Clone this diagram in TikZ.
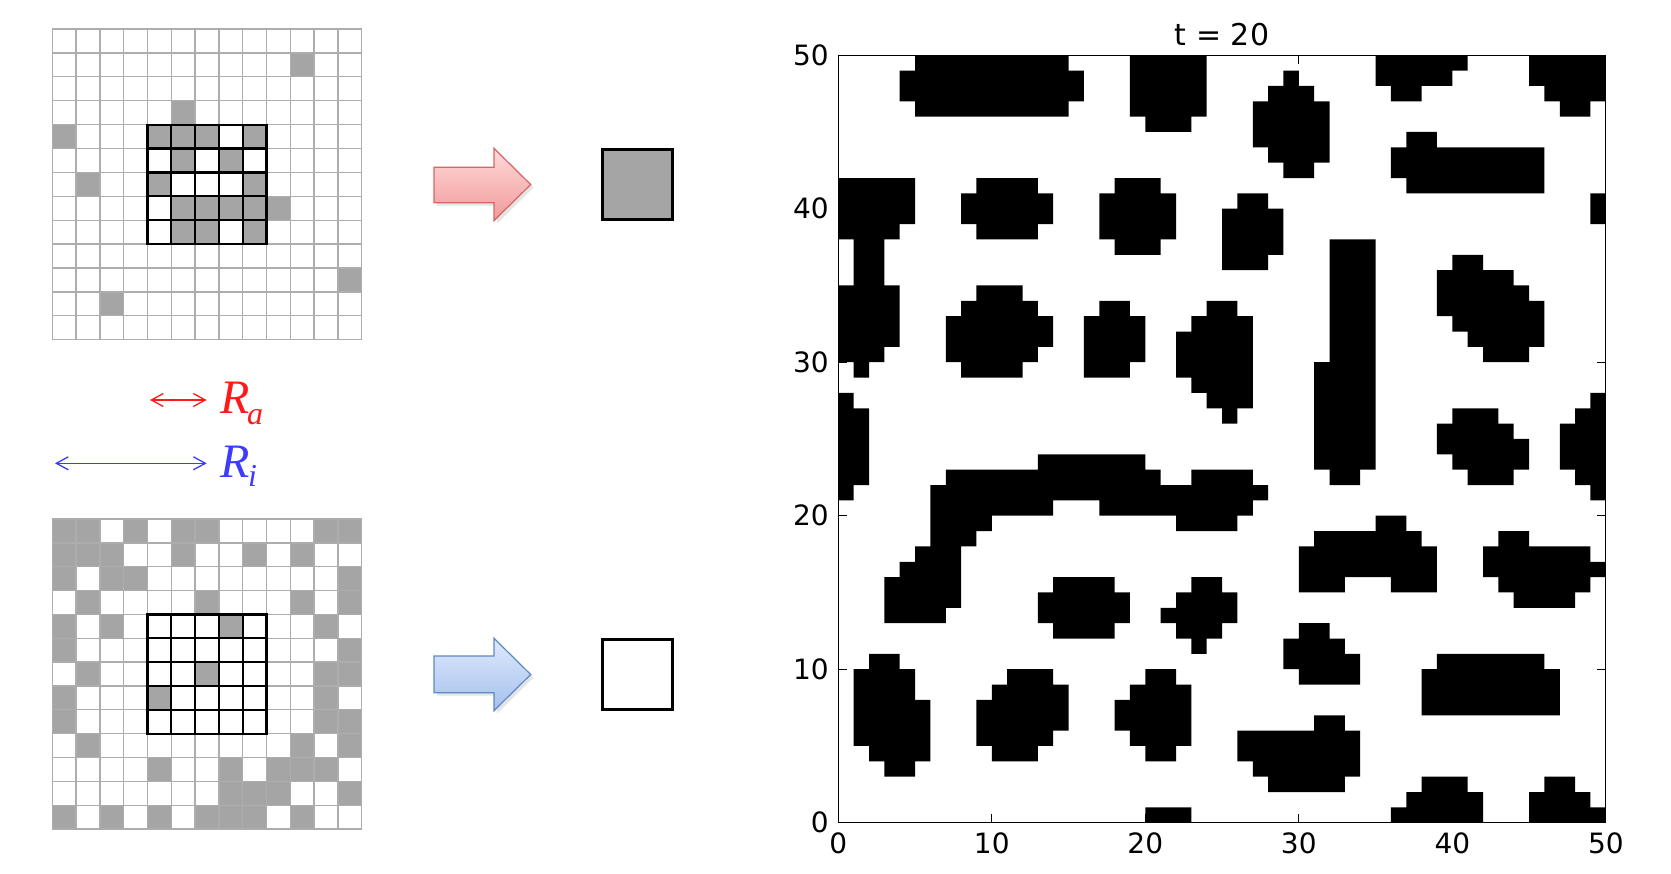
\documentclass[tikz,border=0pt]{standalone}
\usepackage{fontspec}
\usetikzlibrary{arrows.meta}
\newfontfamily\dvs{DejaVu Sans}
\newfontfamily\tms{Liberation Serif}
\definecolor{cellgray}{HTML}{A5A5A5}
\definecolor{gridgray}{HTML}{ADADAD}
\definecolor{redtop}{HTML}{FFDADA}
\definecolor{redbot}{HTML}{F29999}
\definecolor{redline}{HTML}{D96464}
\definecolor{bluetop}{HTML}{E0EAFC}
\definecolor{bluebot}{HTML}{A3C0EE}
\definecolor{blueline}{HTML}{5D88C8}
\definecolor{rared}{HTML}{FF1A1A}
\definecolor{riblue}{HTML}{3C3CFF}
\begin{document}
\begin{tikzpicture}[x=0.5pt,y=-0.5pt,
  gridln/.style={draw=gridgray, line width=0.65pt},
  innerln/.style={draw=black, line width=1.1pt, line cap=rect},
  outbox/.style={draw=black, line width=1.5pt, minimum size=35pt, inner sep=0pt},
  blockshadow/.style={fill=black, opacity=0.10},
  lenarrow/.style={{Straight Barb[length=6pt,width=6.5pt]}-{Straight Barb[length=6pt,width=6.5pt]}, line width=0.65pt},
  tickln/.style={line width=0.6pt},
  ticklab/.style={font=\dvs\fontsize{14}{16}\selectfont, inner sep=0pt},
  rlab/.style={inner sep=0pt, anchor=base west},
]
\useasboundingbox (0,0) rectangle (1671,873);

% ---------- top grid ----------
\begin{scope}[shift={(52.3,29)}, x=11.9pt, y=-11.95pt]
  \foreach \c/\r in {10/1,5/3,0/4,1/6,9/7,12/10,2/11,4/4,5/4,6/4,8/4,5/5,7/5,4/6,8/6,5/7,6/7,7/7,8/7,5/8,6/8,8/8}
    \fill[cellgray] (\c,\r) rectangle ++(1,1);
  \foreach \i in {0,...,13} {\draw[gridln] (\i,0) -- (\i,13); \draw[gridln] (0,\i) -- (13,\i);}
  \foreach \i in {4,...,9} {\draw[innerln] (\i,4) -- (\i,9); \draw[innerln] (4,\i) -- (9,\i);}
\end{scope}

% ---------- bottom grid ----------
\begin{scope}[shift={(52.3,519)}, x=11.9pt, y=-11.925pt]
  \foreach \r/\cs in {0/{0,1,3,5,6,11,12},1/{0,1,2,5,8,10},2/{0,2,3,12},3/{1,6,10,12},4/{0,2,7,11},5/{0,12},6/{1,6,11,12},7/{0,4,11},8/{0,11,12},9/{1,10,12},10/{4,7,9,10,11},11/{7,8,9,12},12/{0,2,4,6,7,8,10}}
    {\foreach \c in \cs {\fill[cellgray] (\c,\r) rectangle ++(1,1);}}
  \foreach \i in {0,...,13} {\draw[gridln] (\i,0) -- (\i,13); \draw[gridln] (0,\i) -- (13,\i);}
  \foreach \i in {4,...,9} {\draw[innerln] (\i,4) -- (\i,9); \draw[innerln] (4,\i) -- (9,\i);}
\end{scope}

% ---------- radius arrows ----------
\coordinate (raL) at (150,400);
\coordinate (raR) at (206.7,400);
\coordinate (riL) at (55,463.3);
\coordinate (riR) at (206.7,463.3);
\draw[lenarrow, rared] (raL) -- (raR);
\draw[lenarrow, riblue] (riL) -- (riR);
\node[rlab, text=rared] (ra) at (220.5,413.3) {\tms\itshape\fontsize{24}{26}\selectfont R\kern-1.5pt\raisebox{-5.5pt}{\fontsize{16}{17}\selectfont a}};
\node[rlab, text=riblue] (ri) at (220.5,477.3) {\tms\itshape\fontsize{24}{26}\selectfont R\kern-1pt\raisebox{-4.8pt}{\fontsize{16}{17}\selectfont i}};

% ---------- block arrows ----------
\fill[blockshadow] (437,170.3)--(497,170.3)--(497,151.3)--(533.7,187.5)--(497,223.7)--(497,205.7)--(437,205.7)--cycle;
\path[draw=redline, line width=0.6pt, top color=redtop, bottom color=redbot]
  (434,167.3)--(494,167.3)--(494,148.3)--(530.7,184.5)--(494,220.7)--(494,202.7)--(434,202.7)--cycle;
\fill[blockshadow] (437,659)--(497,659)--(497,641.3)--(533.7,677.5)--(497,713.7)--(497,695.7)--(437,695.7)--cycle;
\path[draw=blueline, line width=0.6pt, top color=bluetop, bottom color=bluebot]
  (434,656)--(494,656)--(494,638.3)--(530.7,674.5)--(494,710.7)--(494,692.7)--(434,692.7)--cycle;

% ---------- output cells ----------
\node[outbox, fill=cellgray] (outgray) at (637.9,184.5) {};
\node[outbox, fill=white] (outwhite) at (637.9,674.5) {};

% ---------- plot ----------
\begin{scope}[shift={(838.3,822.7)}, x=7.675pt, y=7.675pt]
  \fill[black] \foreach \a/\b/\c/\d in {
    5/46/15/50, 4/47/16/49,
    19/46/24/50, 20/45/23/46,
    0/39/5/42, 0/38/4/39, 1/35/3/38, 0/31/4/35, 0/30/3/31, 1/29/2/30,
    0/27/1/28, 0/22/2/27, 0/21/1/22,
    9/38/13/42, 8/39/14/41,
    18/37/21/42, 17/38/22/41,
    9/34/12/35, 8/33/13/34, 7/31/14/33, 7/30/13/31, 8/29/12/30,
    17/33/19/34, 16/30/20/33, 16/29/19/30,
    24/33/26/34, 23/32/27/33, 22/29/27/32, 23/28/27/29, 24/27/27/28, 25/26/26/27,
    26/40/28/41, 25/37/29/40, 25/36/28/37,
    29/48/30/49, 28/47/31/48, 27/44/32/47, 28/43/32/44, 29/42/31/43,
    35/49/41/50, 35/48/40/49, 36/47/38/48,
    45/48/50/50, 46/47/50/48, 47/46/49/47,
    37/44/39/45, 36/42/46/44, 37/41/46/42,
    49/39/50/41,
    32/30/35/38, 31/23/35/30, 32/22/34/23,
    40/36/42/37, 39/35/44/36, 39/34/45/35, 39/33/46/34, 40/32/46/33, 41/31/46/32, 42/30/45/31,
    40/26/43/27, 39/25/44/26, 39/24/45/25, 40/23/45/24, 41/22/44/23,
    49/27/50/28, 48/26/50/27, 47/23/50/26, 48/22/50/23, 49/21/50/22,
    13/23/20/24, 7/22/21/23, 23/22/27/23, 6/21/28/22, 6/20/14/21, 17/20/27/21,
    6/19/10/20, 22/19/26/20, 6/18/9/19, 5/17/8/18, 4/16/8/17, 3/14/8/16, 3/13/7/14,
    14/15/18/16, 13/13/19/15, 14/12/18/13,
    23/15/25/16, 22/14/26/15, 21/13/26/14, 22/12/25/13, 23/11/24/12,
    2/10/4/11, 1/8/5/10, 1/5/6/8, 2/4/6/5, 3/3/5/4,
    11/9/14/10, 10/8/15/9, 9/6/15/8, 9/5/14/6, 10/4/13/5,
    20/9/22/10, 19/8/23/9, 18/6/23/8, 19/5/23/6, 20/4/22/5,
    20/0/23/1,
    35/19/37/20, 31/18/38/19, 30/16/39/18, 30/15/33/16, 36/15/39/16,
    43/18/45/19, 42/17/49/18, 42/16/50/17, 43/15/49/16, 44/14/48/15,
    30/12/32/13, 29/11/33/12, 29/10/34/11, 30/9/34/10,
    39/10/46/11, 38/7/47/10,
    31/6/33/7, 26/4/34/6, 27/3/34/4, 28/2/33/3,
    38/2/41/3, 37/1/42/2, 36/0/42/1,
    46/2/48/3, 45/1/49/2, 45/0/50/1}
    {(\a,\b) rectangle (\c,\d)};
  \draw[tickln] (0,0) rectangle (50,50);
  \foreach \v in {10,20,30,40} {
    \draw[tickln] (\v,0) -- (\v,0.55);
    \draw[tickln] (\v,50) -- (\v,49.45);
    \draw[tickln] (0,\v) -- (0.55,\v);
    \draw[tickln] (50,\v) -- (49.45,\v);
  }
  \foreach \v in {0,10,20,30,40,50} {
    \node[ticklab, anchor=base] (xl\v) at (\v,-1.98) {\v};
    \node[ticklab, anchor=base east] (yl\v) at (-0.6,\v-0.65) {\v};
  }
  \node[ticklab, font=\dvs\fontsize{15}{18}\selectfont, anchor=base] (title) at (25,50.64) {t = 20};
\end{scope}
\end{tikzpicture}
\end{document}
